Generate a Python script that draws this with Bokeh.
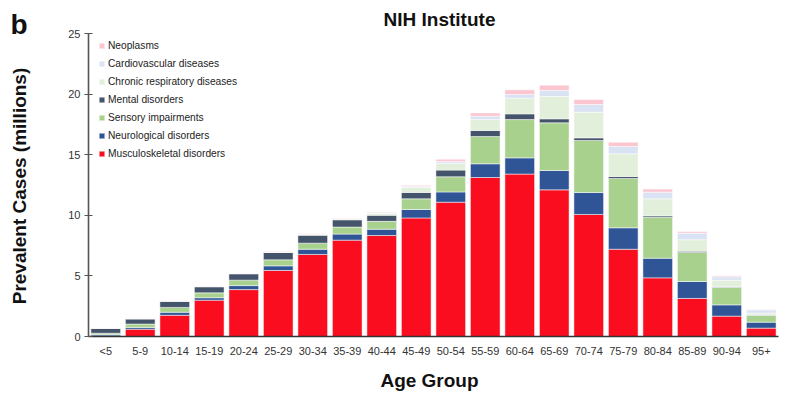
import math
from bokeh.plotting import figure
from bokeh.models import Range1d, Legend, LegendItem, Label, SingleIntervalTicker, FixedTicker, ColumnDataSource
from bokeh.embed import file_html
from bokeh.resources import INLINE

ages = ["<5", "5-9", "10-14", "15-19", "20-24", "25-29", "30-34", "35-39", "40-44", "45-49",
        "50-54", "55-59", "60-64", "65-69", "70-74", "75-79", "80-84", "85-89", "90-94", "95+"]

musculoskeletal = [0.05, 0.6, 1.75, 3.0, 3.87, 5.45, 6.77, 7.95, 8.33, 9.78,
                   11.08, 13.12, 13.4, 12.1, 10.07, 7.2, 4.84, 3.14, 1.68, 0.69]
neurological = [0.1, 0.15, 0.25, 0.2, 0.33, 0.38, 0.43, 0.5, 0.52, 0.7,
                0.85, 1.13, 1.34, 1.6, 1.81, 1.77, 1.62, 1.4, 0.93, 0.49]
sensory = [0.12, 0.28, 0.4, 0.4, 0.45, 0.5, 0.5, 0.58, 0.65, 0.88,
           1.25, 2.25, 3.16, 3.93, 4.29, 4.07, 3.38, 2.39, 1.43, 0.55]
mental = [0.4, 0.42, 0.5, 0.5, 0.52, 0.6, 0.66, 0.6, 0.5, 0.53,
          0.55, 0.5, 0.47, 0.33, 0.22, 0.16, 0.12, 0.11, 0.05, 0.04]
chronic_resp = [0.02, 0.02, 0.03, 0.03, 0.03, 0.04, 0.05, 0.07, 0.15, 0.4,
                0.55, 0.9, 1.3, 1.84, 2.11, 1.87, 1.4, 0.94, 0.55, 0.16]
cardiovascular = [0.0, 0.01, 0.01, 0.01, 0.01, 0.02, 0.02, 0.03, 0.05, 0.1,
                  0.15, 0.28, 0.3, 0.5, 0.64, 0.61, 0.55, 0.55, 0.28, 0.27]
neoplasms = [0.01, 0.02, 0.03, 0.03, 0.03, 0.04, 0.04, 0.05, 0.05, 0.08,
             0.2, 0.27, 0.38, 0.44, 0.41, 0.35, 0.25, 0.13, 0.08, 0.03]

series_names = ["Musculoskeletal disorders", "Neurological disorders", "Sensory impairments",
                "Mental disorders", "Chronic respiratory diseases", "Cardiovascular diseases", "Neoplasms"]
series_keys = ["musc", "neuro", "sens", "ment", "chron", "cardio", "neo"]
colors = ["#FA0D1E", "#2F5597", "#A9D18E", "#44546A", "#E2EFDA", "#DAE3F3", "#FBC6D0"]
y_ticks_step = 5
y_max = 25

xpos = list(range(len(ages)))
src = ColumnDataSource(dict(x=xpos, musc=musculoskeletal, neuro=neurological, sens=sensory,
                            ment=mental, chron=chronic_resp, cardio=cardiovascular, neo=neoplasms))

FONT = "Liberation Sans"

p = figure(x_range=Range1d(-3.0507, 19.848), y_range=Range1d(-5.033, 27.723), width=790, height=397,
           output_backend="svg", toolbar_location=None,
           min_border_left=0, min_border_right=0, min_border_top=0, min_border_bottom=0)

rs = p.vbar_stack(series_keys, x="x", width=0.86, color=colors, source=src,
                  line_color="white", line_width=0.5)

items = [LegendItem(label=n, renderers=[r]) for n, r in zip(series_names, rs)][::-1]
legend = Legend(items=items, location=(98, 237), margin=0, padding=0,
                glyph_width=7, glyph_height=7, label_height=14, spacing=4, label_standoff=3,
                label_text_font=FONT, label_text_font_size="10.2px",
                label_text_color="#222222", border_line_alpha=0, background_fill_alpha=0)
p.add_layout(legend, "center")

p.xgrid.grid_line_color = None
p.ygrid.grid_line_color = None
p.outline_line_color = None

# y axis drawn at the left edge of the first bar slot
p.yaxis.fixed_location = -0.5
p.yaxis.bounds = (0, y_max)
p.yaxis.ticker = SingleIntervalTicker(interval=y_ticks_step, num_minor_ticks=0)
p.yaxis.major_tick_in = 4
p.yaxis.major_tick_out = 4
p.yaxis.minor_tick_line_color = None
p.yaxis.axis_line_color = "#555555"
p.yaxis.axis_line_width = 1.6
p.yaxis.major_tick_line_color = "#555555"
p.yaxis.major_tick_line_width = 1.2
p.yaxis.major_label_text_font = FONT
p.yaxis.major_label_text_font_size = "11px"
p.yaxis.major_label_text_color = "#333333"
p.yaxis.major_label_standoff = 4

p.xaxis.fixed_location = 0
p.xaxis.bounds = (-0.5, len(ages) - 0.5)
p.xaxis.ticker = FixedTicker(ticks=xpos)
p.xaxis.major_label_overrides = {i: a for i, a in zip(xpos, ages)}
p.xaxis.major_tick_line_color = None
p.xaxis.major_tick_in = 0
p.xaxis.major_tick_out = 0
p.xaxis.minor_tick_line_color = None
p.xaxis.axis_line_color = "#333333"
p.xaxis.axis_line_width = 1.5
p.xaxis.major_label_text_font = FONT
p.xaxis.major_label_text_font_size = "11px"
p.xaxis.major_label_text_color = "#333333"
p.xaxis.major_label_standoff = 8

def lab(text, x, y, size, align="center", angle=0.0):
    return Label(x=x, y=y, x_units="screen", y_units="screen", text=text, angle=angle,
                 text_font=FONT, text_font_size=size, text_font_style="bold",
                 text_color="#111111", text_align=align, text_baseline="alphabetic")

p.add_layout(lab("b", 10, 373, "28px", align="left"))
p.add_layout(lab("NIH Institute", 439, 378, "19px"))
p.add_layout(lab("Prevalent Cases (millions)", 19, 211.5, "19px", angle=math.pi / 2))
p.add_layout(lab("Age Group", 429, 17, "19px"))

open("out.html", "w").write(file_html(p, INLINE))
